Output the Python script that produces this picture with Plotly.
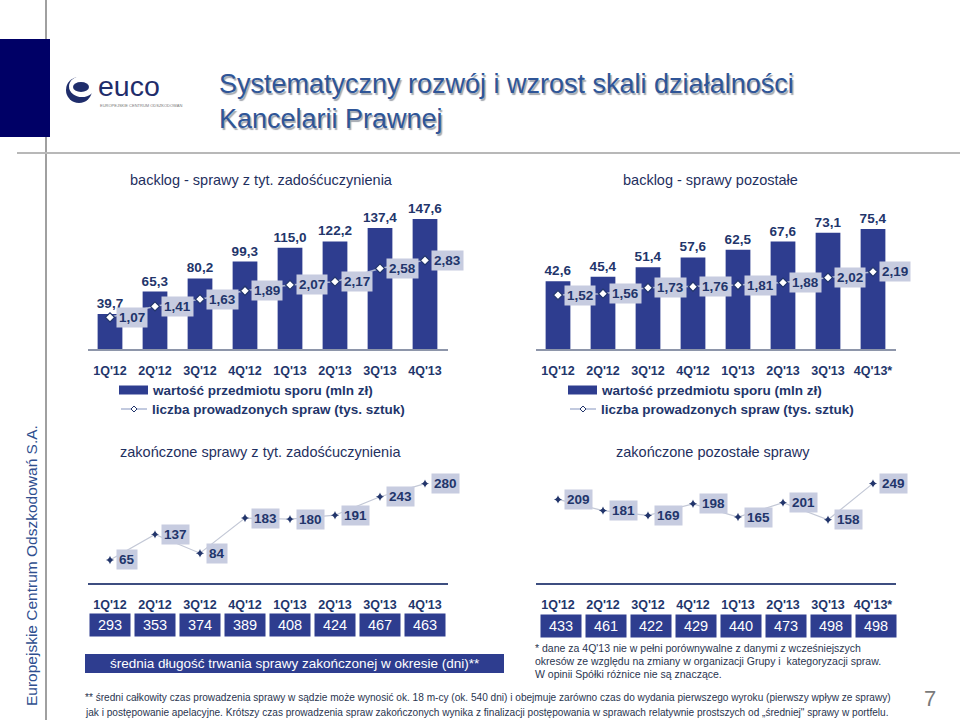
import plotly.graph_objects as go

# ---------------- data ----------------
categories = ["1Q'12", "2Q'12", "3Q'12", "4Q'12", "1Q'13", "2Q'13", "3Q'13", "4Q'13"]
categories_other = ["1Q'12", "2Q'12", "3Q'12", "4Q'12", "1Q'13", "2Q'13", "3Q'13", "4Q'13*"]

backlog_claims_value = [39.7, 65.3, 80.2, 99.3, 115.0, 122.2, 137.4, 147.6]
backlog_claims_count = [1.07, 1.41, 1.63, 1.89, 2.07, 2.17, 2.58, 2.83]
backlog_other_value = [42.6, 45.4, 51.4, 57.6, 62.5, 67.6, 73.1, 75.4]
backlog_other_count = [1.52, 1.56, 1.73, 1.76, 1.81, 1.88, 2.02, 2.19]

closed_claims = [65, 137, 84, 183, 180, 191, 243, 280]
closed_other = [209, 181, 169, 198, 165, 201, 158, 249]

duration_claims = [293, 353, 374, 389, 408, 424, 467, 463]
duration_other = [433, 461, 422, 429, 440, 473, 498, 498]

# ---------------- style ----------------
W, H = 960, 720
BAR = "#2E3D8F"
NAVY = "#22356B"
LABEL_BG = "#C7CCE0"
LINE1 = "#AEB8D4"
LINE2 = "#C3C8D6"
FONT = "Liberation Sans, Arial, sans-serif"


def X(px):
    return px / W


def Y(py):
    return 1 - py / H


def fmt(v, d):
    return f"{v:.{d}f}".replace(".", ",")


fig = go.Figure()

# ---------- chart 1: backlog claims ----------
fig.add_trace(go.Bar(
    x=categories, y=backlog_claims_value, xaxis="x", yaxis="y",
    marker=dict(color=BAR, line=dict(width=0)), width=0.55,
    text=[fmt(v, 1) for v in backlog_claims_value], textposition="outside",
    constraintext="none",
    textfont=dict(size=13.5, color=NAVY, family=FONT, weight="bold"),
    cliponaxis=False, showlegend=False, hoverinfo="skip"))
fig.add_trace(go.Scatter(
    x=categories, y=backlog_claims_count, xaxis="x", yaxis="y2",
    mode="lines+markers", line=dict(color=LINE1, width=1.5),
    marker=dict(symbol="diamond", size=7, color="white", line=dict(color=NAVY, width=1.2)),
    showlegend=False, hoverinfo="skip"))

# ---------- chart 2: backlog other ----------
fig.add_trace(go.Bar(
    x=categories_other, y=backlog_other_value, xaxis="x2", yaxis="y3",
    marker=dict(color=BAR, line=dict(width=0)), width=0.55,
    text=[fmt(v, 1) for v in backlog_other_value], textposition="outside",
    constraintext="none",
    textfont=dict(size=13.5, color=NAVY, family=FONT, weight="bold"),
    cliponaxis=False, showlegend=False, hoverinfo="skip"))
fig.add_trace(go.Scatter(
    x=categories_other, y=backlog_other_count, xaxis="x2", yaxis="y4",
    mode="lines+markers", line=dict(color=LINE1, width=1.5),
    marker=dict(symbol="diamond", size=7, color="white", line=dict(color=NAVY, width=1.2)),
    showlegend=False, hoverinfo="skip"))

# ---------- chart 3: closed claims ----------
fig.add_trace(go.Scatter(
    x=categories, y=closed_claims, xaxis="x3", yaxis="y5",
    mode="lines+markers", line=dict(color=LINE2, width=1.2),
    marker=dict(symbol="star-diamond", size=6, color=NAVY),
    showlegend=False, hoverinfo="skip", cliponaxis=False))

# ---------- chart 4: closed other ----------
fig.add_trace(go.Scatter(
    x=categories_other, y=closed_other, xaxis="x4", yaxis="y6",
    mode="lines+markers", line=dict(color=LINE2, width=1.2),
    marker=dict(symbol="star-diamond", size=6, color=NAVY),
    showlegend=False, hoverinfo="skip", cliponaxis=False))

annotations = []
shapes = []


def point_labels(xs, ys, xref, yref, dec):
    for c, v in zip(xs, ys):
        annotations.append(dict(
            x=c, y=v, xref=xref, yref=yref, text=fmt(v, dec) if dec else str(v),
            showarrow=False, xanchor="left", yanchor="middle", xshift=6,
            bgcolor=LABEL_BG, borderpad=2,
            font=dict(size=13.5, color=NAVY, family=FONT, weight="bold")))


point_labels(categories, backlog_claims_count, "x", "y2", 2)
point_labels(categories_other, backlog_other_count, "x2", "y4", 2)
point_labels(categories, closed_claims, "x3", "y5", 0)
point_labels(categories_other, closed_other, "x4", "y6", 0)


def box_row(xs, vals, xref, ypx, xshift=0):
    for c, v in zip(xs, vals):
        annotations.append(dict(
            x=c, y=Y(ypx), xref=xref, yref="paper", text=str(v), showarrow=False,
            xanchor="center", yanchor="middle", width=38, height=20, xshift=xshift,
            bgcolor=BAR, font=dict(size=14.5, color="white", family=FONT)))


box_row(categories, duration_claims, "x3", 625)
box_row(categories_other, duration_other, "x4", 626, xshift=3)


def txt(x, y, s, size, color=NAVY, anchor="center", weight="normal", family=FONT, shadow=None, **kw):
    f = dict(size=size, color=color, family=family, weight=weight)
    if shadow:
        f["shadow"] = shadow
    annotations.append(dict(
        x=X(x), y=Y(y), xref="paper", yref="paper", text=s, showarrow=False,
        xanchor=anchor, yanchor="middle", font=f, **kw))


# chart titles
TCOL = "#1F3060"
txt(261, 180, "backlog - sprawy z tyt. zadośćuczynienia", 14.5, color=TCOL)
txt(710, 180, "backlog - sprawy pozostałe", 14.5, color=TCOL)
txt(260, 452, "zakończone sprawy z tyt. zadośćuczynienia", 14.5, color=TCOL)
txt(713, 452, "zakończone pozostałe sprawy", 14.5, color=TCOL)

# legends (drawn)
for lx in (119, 568):
    shapes.append(dict(type="rect", xref="paper", yref="paper",
                       x0=X(lx), x1=X(lx + 29), y0=Y(394.5), y1=Y(385.5),
                       fillcolor=BAR, line=dict(width=0)))
    shapes.append(dict(type="line", xref="paper", yref="paper",
                       x0=X(lx + 2), x1=X(lx + 28), y0=Y(409), y1=Y(409),
                       line=dict(color=LINE1, width=1.5)))
    shapes.append(dict(type="path", xref="paper", yref="paper",
                       path=f"M {X(lx+15)},{Y(406)} L {X(lx+18)},{Y(409)} L {X(lx+15)},{Y(412)} L {X(lx+12)},{Y(409)} Z",
                       fillcolor="white", line=dict(color=NAVY, width=1)))
    txt(lx + 31, 390, "wartość przedmiotu sporu (mln zł)", 13.5, anchor="left", weight="bold")
    txt(lx + 31, 409, "liczba prowadzonych spraw (tys. sztuk)", 13.5, anchor="left", weight="bold")

# average-duration box
shapes.append(dict(type="rect", xref="paper", yref="paper",
                   x0=X(85), x1=X(504), y0=Y(673), y1=Y(654),
                   fillcolor=BAR, line=dict(width=0)))
txt(294.5, 663.5, "średnia długość trwania sprawy zakończonej w okresie (dni)**", 13.5, color="white")

# footnotes
FOOT = "#2A3550"
txt(533, 648, "* dane za 4Q'13 nie w pełni porównywalne z danymi z wcześniejszych", 10.5, color=FOOT, anchor="left")
txt(533, 661, "okresów ze względu na zmiany w organizacji Grupy i  kategoryzacji spraw.", 10.5, color=FOOT, anchor="left")
txt(533, 674, "W opinii Spółki różnice nie są znaczące.", 10.5, color=FOOT, anchor="left")
txt(83, 697, "** średni całkowity czas prowadzenia sprawy w sądzie może wynosić ok. 18 m-cy (ok. 540 dni) i obejmuje zarówno czas do wydania pierwszego wyroku (pierwszy wpływ ze sprawy)", 10.1, color=FOOT, anchor="left")
txt(83, 712, "jak i postępowanie apelacyjne. Krótszy czas prowadzenia spraw zakończonych wynika z finalizacji postępowania w sprawach relatywnie prostszych od „średniej\" sprawy w portfelu.", 10.1, color=FOOT, anchor="left")

# slide frame
shapes.append(dict(type="line", xref="paper", yref="paper", x0=X(46), x1=X(46), y0=0, y1=1,
                   line=dict(color="#808080", width=1.5)))
shapes.append(dict(type="rect", xref="paper", yref="paper", x0=0, x1=X(50), y0=Y(137), y1=Y(39),
                   fillcolor="#000066", line=dict(width=0)))
shapes.append(dict(type="line", xref="paper", yref="paper", x0=X(17), x1=1, y0=Y(153), y1=Y(153),
                   line=dict(color="#B8B8B8", width=2)))

# logo
shapes.append(dict(type="circle", xref="paper", yref="paper", x0=X(66), x1=X(92), y0=Y(103), y1=Y(77),
                   fillcolor="#1F2D6B", line=dict(width=0)))
shapes.append(dict(type="circle", xref="paper", yref="paper", x0=X(69), x1=X(95), y0=Y(97), y1=Y(76),
                   fillcolor="white", line=dict(width=0)))
shapes.append(dict(type="circle", xref="paper", yref="paper", x0=X(73), x1=X(89), y0=Y(92), y1=Y(82),
                   fillcolor="#1F2D6B", line=dict(width=0)))
txt(96, 86, "euco", 28.5, color="#1F2D6B", anchor="left")
txt(98, 105, "EUROPEJSKIE CENTRUM ODSZKODOWAŃ", 4, color="#777777", anchor="left")

# title with shadow
txt(217, 102, "Systematyczny rozwój i wzrost skali działalności<br>Kancelarii Prawnej", 27,
    color="#2F5597", anchor="left", align="left", shadow="1.5px 1.5px 1px #A3A8B0")

# vertical company name
txt(31, 566, "Europejskie Centrum Odszkodowań S.A.", 15.5, color="#2F4F8F", textangle=-90)
# page number
txt(930, 698, "7", 22, color="#7A7A7A")

# ---------- axes ----------
tickfont = dict(size=12.5, color=NAVY, family=FONT, weight="bold")


def xax(domain, anchor, line_color, line_w):
    return dict(domain=domain, anchor=anchor, type="category", range=[-0.5, 7.5],
                showline=True, linecolor=line_color, linewidth=line_w,
                ticks="outside", ticklen=9, tickcolor="rgba(0,0,0,0)",
                tickfont=tickfont, showgrid=False, zeroline=False, fixedrange=True)


def yax(domain, rng, **kw):
    return dict(domain=domain, range=rng, visible=False, showgrid=False, zeroline=False,
                fixedrange=True, **kw)


top_dom = [Y(349), Y(200)]
bot_dom = [Y(583), Y(470)]

fig.update_layout(
    width=W, height=H, margin=dict(l=0, r=0, t=0, b=0),
    paper_bgcolor="white", plot_bgcolor="rgba(0,0,0,0)",
    font=dict(family=FONT, color=NAVY),
    showlegend=False, barmode="overlay",
    xaxis=xax([X(87.5), X(447.5)], "y", "#8E96AA", 1.5),
    yaxis=yax(top_dom, [0, 149 / 0.88]),
    yaxis2=yax(top_dom, [0.093, 4.691], overlaying="y", anchor="x"),
    xaxis2=xax([X(535.5), X(895.5)], "y3", "#8E96AA", 1.5),
    yaxis3=yax(top_dom, [0, 149 / 1.59], anchor="x2"),
    yaxis4=yax(top_dom, [-0.029, 4.253], overlaying="y3", anchor="x2"),
    xaxis3=xax([X(87.5), X(447.5)], "y5", "#3D4E80", 1.5),
    yaxis5=yax(bot_dom, [0, 113 / 0.355], anchor="x3"),
    xaxis4=xax([X(535.5), X(895.5)], "y6", "#3D4E80", 1.5),
    yaxis6=yax(bot_dom, [0, 113 / 0.40], anchor="x4"),
    annotations=annotations, shapes=shapes,
)

fig.write_html(
    "out.html",
    config={"displayModeBar": False},
    post_script="document.body.style.margin='0';document.body.style.padding='0';",
)
